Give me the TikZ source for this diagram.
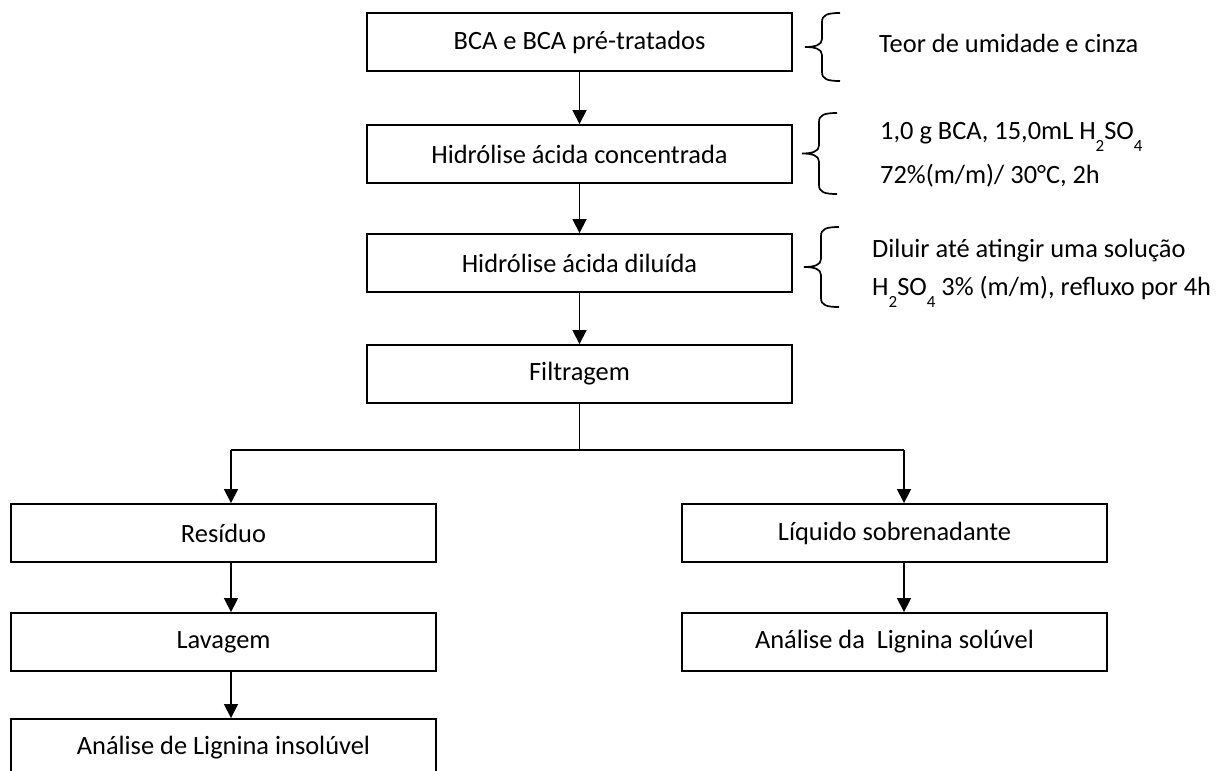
\documentclass[tikz,border=0pt]{standalone}
\usepackage{fontspec}
\setmainfont{Carlito}
\usetikzlibrary{arrows.meta, positioning}
\tikzstyle{stage} = [draw, line width=1.9pt, minimum width=425pt, minimum height=58pt, inner sep=0pt, text centered, font=\fontsize{26.4}{32}\selectfont]
\tikzstyle{arrow} = [line width=1.7pt, -{Triangle[width=14pt,length=14pt]}]
\tikzstyle{line} = [line width=1.7pt]
% subscript set low, as in the original
\newcommand{\lowsub}[1]{\raisebox{-12pt}{\fontsize{17}{17}\selectfont #1}}
% left curly brace: x of the ends, top y, bottom y
\newcommand{\notebrace}[3]{%
  \pgfmathsetmacro{\bmid}{(#2+#3)/2}
  \draw[line] (#1,#2) .. controls (#1-13,#2) and (#1-18,#2+2) .. (#1-18,#2+9)
    -- (#1-18,\bmid-8) .. controls (#1-18,\bmid-2) and (#1-25,\bmid) .. (#1-35,\bmid)
    .. controls (#1-25,\bmid) and (#1-18,\bmid+2) .. (#1-18,\bmid+8)
    -- (#1-18,#3-9) .. controls (#1-18,#3-2) and (#1-13,#3) .. (#1,#3);}

\begin{document}
\begin{tikzpicture}[
        x=1pt, y=-1pt,
        note/.style={anchor=base west, inner sep=0pt, align=left}
    ]
        \useasboundingbox (0,0) rectangle (1229,771);

        % Main steps
        \node (bca) [stage] at (579.5,42) {BCA e BCA pré-tratados};
        \node (conc) [stage] at (579.5,154) {Hidrólise ácida concentrada};
        \node (dil) [stage] at (579.5,263) {Hidrólise ácida diluída};
        \node (filt) [stage] at (579.5,374) {Filtragem};

        % Branches after filtration
        \node (res) [stage] at (223.5,533) {Resíduo};
        \node (lav) [stage] at (223.5,642) {Lavagem};
        \node (insol) [stage] at (223.5,748) {Análise de Lignina insolúvel};
        \node (liq) [stage] at (894.5,533) {Líquido sobrenadante};
        \node (sol) [stage] at (894.5,642) {Análise da\ \ Lignina solúvel};

        % Notes with braces (base = last line)
        \node (teor) [note, font=\fontsize{26.4}{32}\selectfont] at (879,52) {Teor de umidade e cinza};
        \node (cond) [note, font=\fontsize{26.4}{44}\selectfont] at (880,183) {1,0 g BCA, 15,0mL H\lowsub{2}SO\lowsub{4}\\72\%(m/m)/ 30°C, 2h};
        \node (dilu) [note, font=\fontsize{26.4}{38}\selectfont] at (872,295) {Diluir até atingir uma solução\\H\lowsub{2}SO\lowsub{4} 3\% (m/m), refluxo por 4h};
        \notebrace{840}{13}{81}
        \notebrace{837}{113}{194}
        \notebrace{839}{227}{307}

        % Arrows
        \draw[arrow] (bca.south) -- (conc.north);
        \draw[arrow] (conc.south) -- (dil.north);
        \draw[arrow] (dil.south) -- (filt.north);

        \coordinate (split) at (579.5,450);
        \coordinate (splitL) at (231,450);
        \coordinate (splitR) at (904,450);
        \draw[line] (filt.south) -- (split);
        \draw[line] (splitL) -- (splitR);
        \draw[arrow] (splitL) -- (splitL |- res.north);
        \draw[arrow] (splitR) -- (splitR |- liq.north);
        \draw[arrow] (splitL |- res.south) -- (splitL |- lav.north);
        \draw[arrow] (splitL |- lav.south) -- (splitL |- insol.north);
        \draw[arrow] (splitR |- liq.south) -- (splitR |- sol.north);

    \end{tikzpicture}
\end{document}
